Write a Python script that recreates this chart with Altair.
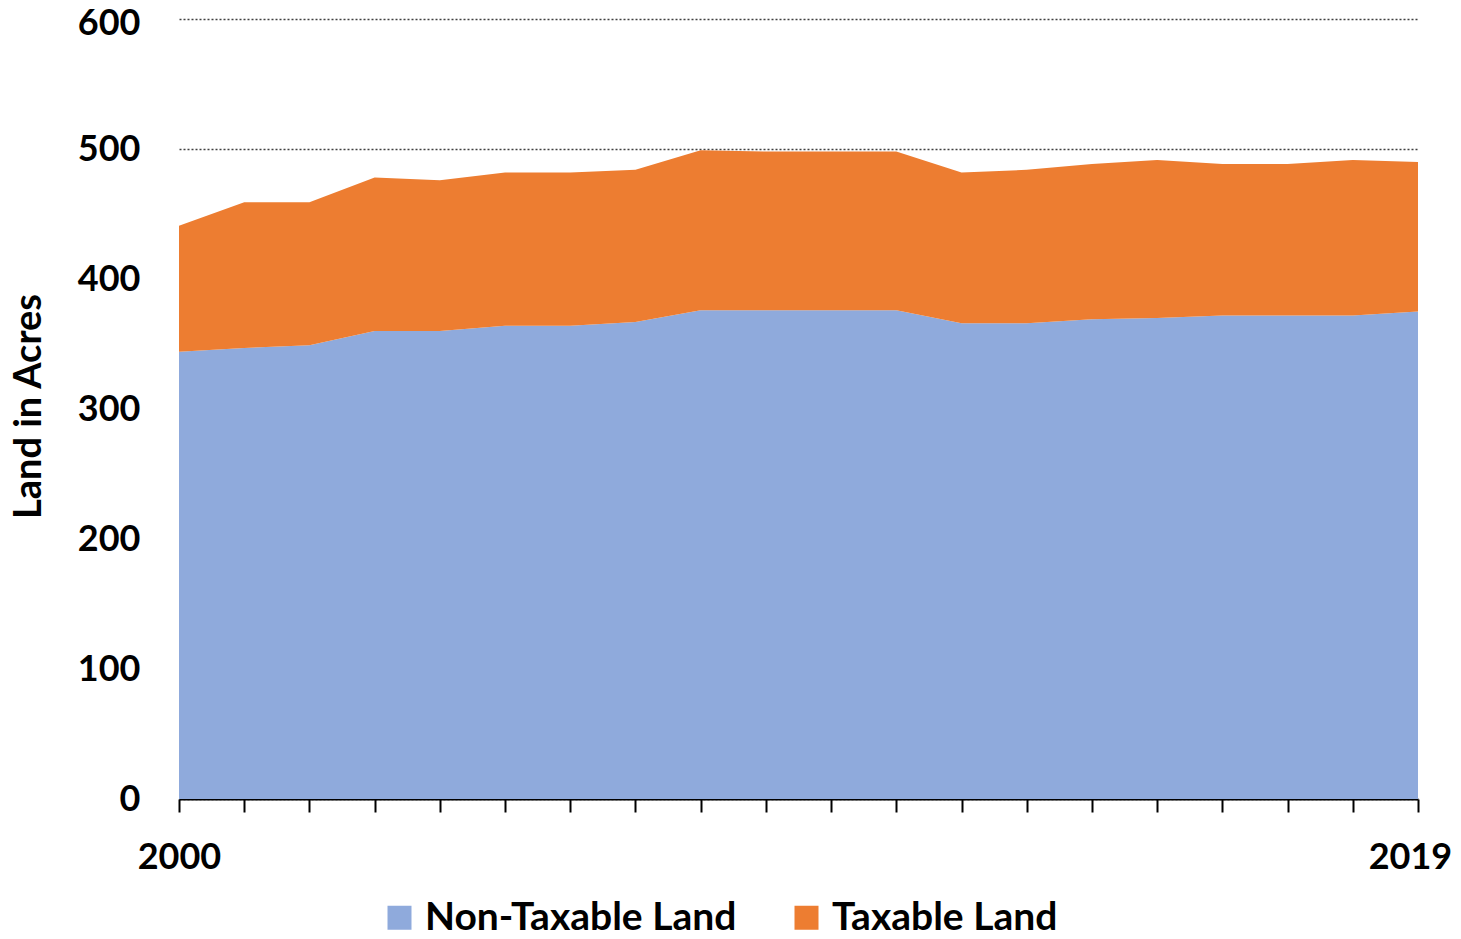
import altair as alt
import pandas as pd

years = list(range(2000, 2020))
non_taxable = [344, 347, 349, 360, 360, 364, 364, 367, 376, 376, 376, 376, 366, 366, 369, 370, 372, 372, 372, 375]
taxable = [97, 112, 110, 118, 116, 118, 118, 117, 123, 122, 122, 122, 116, 118, 119.5, 121.5, 116.5, 116.5, 119.5, 115]
series = ["Non-Taxable Land", "Taxable Land"]
colors = ["#8FAADC", "#ED7D31"]
y_ticks = [0, 100, 200, 300, 400, 500, 600]

rows = []
for i, yr in enumerate(years):
    rows.append({"year": yr, "series": series[0], "value": non_taxable[i], "ord": 0})
    rows.append({"year": yr, "series": series[1], "value": taxable[i], "ord": 1})
df = pd.DataFrame(rows)

FONT = "Lato"

chart = alt.Chart(df).mark_area(opacity=1).encode(
    x=alt.X("year:Q",
            scale=alt.Scale(domain=[2000, 2019], nice=False, zero=False),
            axis=alt.Axis(values=years, title=None, grid=False,
                          labelExpr="(datum.value == 2000 || datum.value == 2019) ? datum.label : ''",
                          format="d",
                          domainColor="black", domainWidth=2,
                          tickColor="black", tickWidth=2, tickSize=13,
                          labelBaseline="alphabetic", labelPadding=56,
                          labelOffset={"condition": {"test": "datum.value == 2019", "value": -8}, "value": 0},
                          labelFont=FONT, labelFontSize=36, labelFontWeight="bold",
                          labelColor="black", labelFlush=False, labelOverlap=False)),
    y=alt.Y("value:Q", stack="zero",
            scale=alt.Scale(domain=[0, 600], nice=False),
            axis=alt.Axis(values=y_ticks, title="Land in Acres", domain=False, ticks=False,
                          grid=True, gridColor="#404040", gridDash=[2, 2], gridWidth=1.3,
                          labelPadding=39, labelFont=FONT, labelFontSize=36,
                          labelOffset={"condition": {"test": "datum.value == 600", "value": 4}, "value": 0},
                          labelFontWeight="bold", labelColor="black",
                          titleFont=FONT, titleFontSize=38, titleFontWeight="bold",
                          titleColor="black", titleX=-139, titleY=387,
                          titleBaseline="alphabetic", titleAngle=270)),
    color=alt.Color("series:N",
                    scale=alt.Scale(domain=series, range=colors),
                    legend=alt.Legend(title=None, orient="none", direction="horizontal",
                                      legendX=201, legendY=879, padding=0,
                                      symbolType="square", symbolSize=576,
                                      symbolStrokeWidth=0, symbolOpacity=1,
                                      labelOffset=6, columnPadding=50, labelLimit=0,
                                      labelFont=FONT, labelFontSize=39,
                                      labelFontWeight="bold", labelColor="black")),
    order=alt.Order("ord:Q", sort="ascending"),
).properties(
    width=1239, height=780,
    autosize=alt.AutoSizeParams(type="none"),
    padding={"left": 171, "top": 11, "right": 35, "bottom": 132},
).configure(background="white").configure_view(strokeWidth=0, stroke="transparent")

chart.save("out.html", embed_options={"renderer": "svg", "actions": False})
